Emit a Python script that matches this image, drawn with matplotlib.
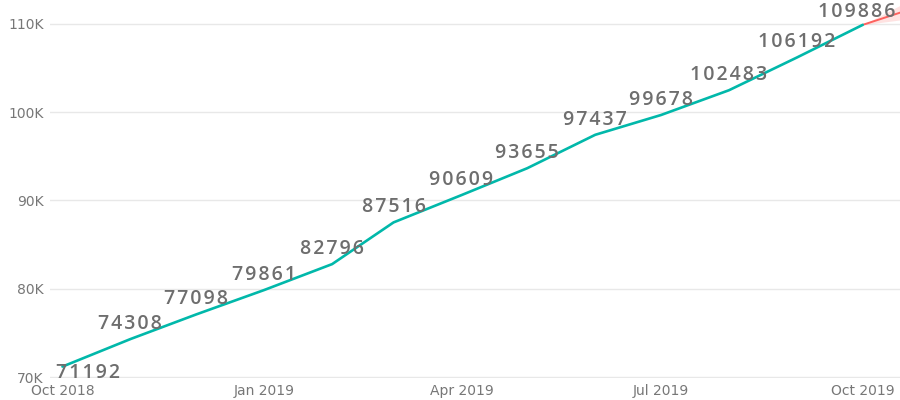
import datetime as dt
import matplotlib
matplotlib.use('Agg')
import matplotlib.pyplot as plt
from matplotlib.ticker import FuncFormatter

# monthly totals
months = ['2018-10', '2018-11', '2018-12', '2019-01', '2019-02', '2019-03', '2019-04',
          '2019-05', '2019-06', '2019-07', '2019-08', '2019-09', '2019-10']
values = [71192, 74308, 77098, 79861, 82796, 87516, 90609,
          93655, 97437, 99678, 102483, 106192, 109886]

# forecast continuation (only the start is visible)
fc_months = ['2019-10', '2019-11']
fc_values = [109886, 112400]
fc_lower = [109886, 110900]
fc_upper = [109886, 113900]

tick_months = ['2018-10', '2019-01', '2019-04', '2019-07', '2019-10']
tick_labels = ['Oct 2018', 'Jan 2019', 'Apr 2019', 'Jul 2019', 'Oct 2019']


def to_date(s):
    return dt.datetime.strptime(s, '%Y-%m')


x = [to_date(m) for m in months]
fx = [to_date(m) for m in fc_months]

fig = plt.figure(figsize=(9, 4), dpi=100)
ax = fig.add_axes([0.056, 0.055, 0.944, 0.945])

ax.fill_between(fx, fc_lower, fc_upper, color='#FD625E', alpha=0.18, lw=0)
ax.plot(fx, fc_values, color='#FD625E', lw=1.4)
ax.plot(x, values, color='#01B8AA', lw=1.9, solid_capstyle='round')

for i, (xi, v) in enumerate(zip(x, values)):
    if i == 0:
        off = (26, -6)
    elif i == len(values) - 1:
        off = (-6, 13)
    else:
        off = (0, 15)
    # spaced-out digits like the original
    txt = '\u200a'.join(str(v))
    ax.annotate(txt, (xi, v), xytext=off, textcoords='offset pixels',
                ha='center', va='center', fontsize=14, fontweight='semibold',
                family=['Open Sans', 'DejaVu Sans'], color='#6E6E6E')

ax.set_xlim(dt.datetime(2018, 9, 25, 12), dt.datetime(2019, 10, 18))
ax.set_ylim(69900, 112700)
ax.set_yticks([70000, 80000, 90000, 100000, 110000])
ax.yaxis.set_major_formatter(FuncFormatter(lambda v, p: '{:d}K'.format(int(v / 1000))))
ax.set_xticks([to_date(m) for m in tick_months])
ax.set_xticklabels(tick_labels)

ax.grid(axis='y', color='#E8E8E8', lw=1)
ax.set_axisbelow(True)
for s in ax.spines.values():
    s.set_visible(False)
ax.tick_params(length=0, labelsize=10, labelcolor='#777777')
ax.tick_params(axis='x', pad=4)
ax.tick_params(axis='y', pad=5)

fig.savefig('out.png', dpi=100)
